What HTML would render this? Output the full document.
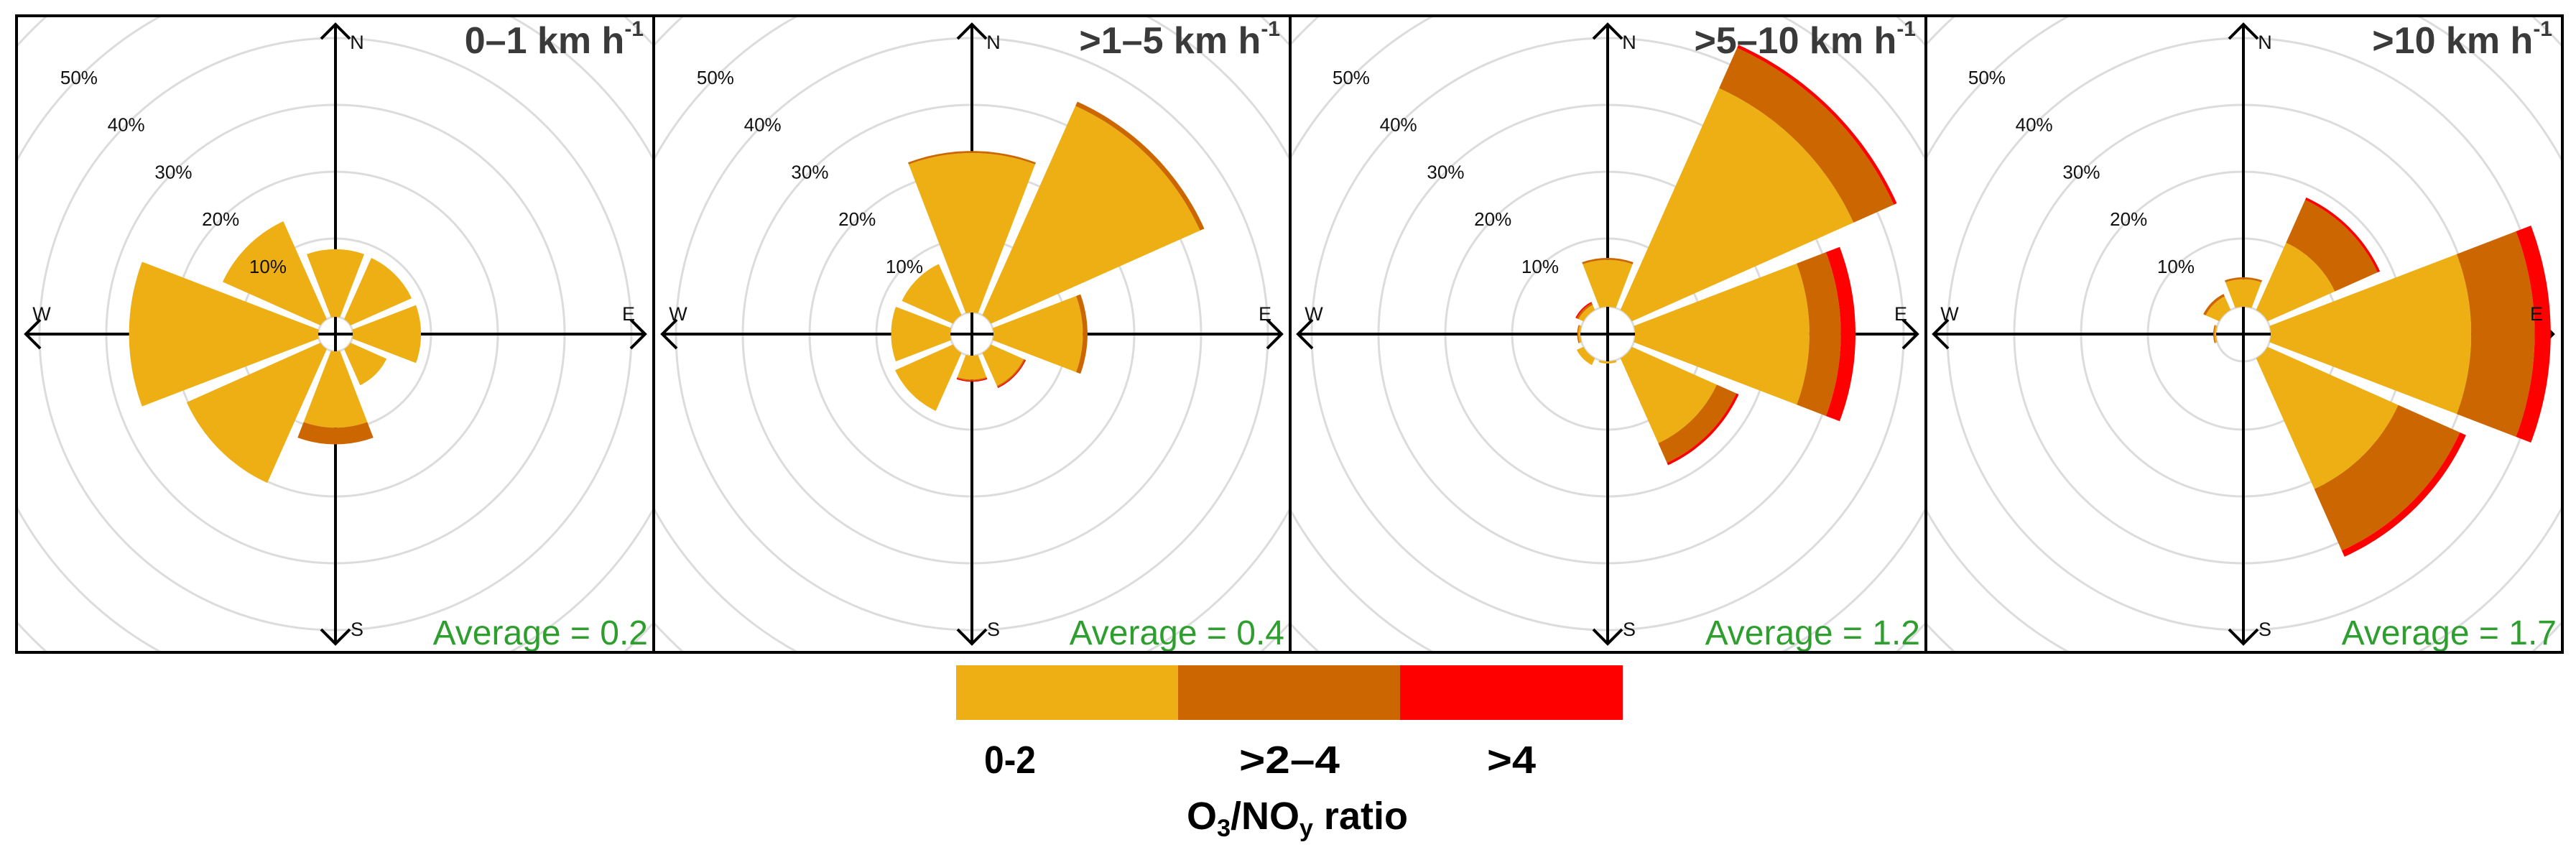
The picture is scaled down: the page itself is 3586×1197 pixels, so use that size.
<!DOCTYPE html>
<html><head><meta charset="utf-8"><style>
html,body{margin:0;padding:0;background:#fff;}
svg{display:block;font-family:"Liberation Sans",Arial,sans-serif;}
</style></head><body>
<svg id="chart" width="3586" height="1197" viewBox="0 0 3586 1197" xmlns="http://www.w3.org/2000/svg">
<g id="panels"></g>
<g id="legend">
  <rect x="1331" y="926" width="310" height="76" fill="#EDAF13"/>
  <rect x="1640" y="926" width="310" height="76" fill="#CC6600"/>
  <rect x="1949" y="926" width="310" height="76" fill="#FF0000"/>
  <text x="1406" y="1076" font-size="54" font-weight="bold" text-anchor="middle" textLength="72" lengthAdjust="spacingAndGlyphs">0-2</text>
  <text x="1795" y="1076" font-size="54" font-weight="bold" text-anchor="middle" textLength="140" lengthAdjust="spacingAndGlyphs">&gt;2–4</text>
  <text x="2104" y="1076" font-size="54" font-weight="bold" text-anchor="middle" textLength="68" lengthAdjust="spacingAndGlyphs">&gt;4</text>
  <text x="1806" y="1154" font-size="54" font-weight="bold" text-anchor="middle">O<tspan font-size="34" dy="10">3</tspan><tspan dy="-10">/NO</tspan><tspan font-size="34" dy="10">y</tspan><tspan dy="-10"> ratio</tspan></text>
</g>
</svg>
<script>
// order of directions: N, NE, E, SE, S, SW, W, NW
const directions = ["N","NE","E","SE","S","SW","W","NW"];
const panelTitles = ["0–1 km h",">1–5 km h",">5–10 km h",">10 km h"];
const panelAverages = ["Average = 0.2","Average = 0.4","Average = 1.2","Average = 1.7"];
const ringTicks = [10,20,30,40,50];
const ratioBins = ["0-2",">2-4",">4"];
const low1 = [8.4,8.3,8.5,4.2,9.7,20.2,26.6,14.3];
const mid1 = [0,0,0,0,2.5,0,0,0];
const high1 = [0,0,0,0,0,0,0,0];
const low2 = [22.8,33.2,12.3,4.3,2.5,8.4,7.8,7.3];
const mid2 = [0.3,0.7,0.7,0.2,0.1,0,0,0];
const high2 = [0,0,0,0.1,0.1,0,0,0];
const low3 = [6.8,36.1,25.9,13.7,0.1,0.9,0.1,0.6];
const mid3 = [0.3,6.6,4.7,3.2,0,0,0.15,0.3];
const high3 = [0,0.5,2.2,0.4,0,0,0,0.2];
const low4 = [3.9,10.8,29.8,21.2,0,0,0.05,2.0];
const mid4 = [0.3,7.0,9.5,10.1,0,0,0.1,0.4];
const high4 = [0,0.4,2.4,1.0,0,0,0,0];
const series = [[low1,mid1,high1],[low2,mid2,high2],[low3,mid3,high3],[low4,mid4,high4]];

const NS="http://www.w3.org/2000/svg";
const colors=["#EDAF13","#CC6600","#FF0000"];
const panelLeft=[23,910,1796,2681], panelW=[887,886,885,886];
const centersX=[467,1353,2238,3123], CY=465, PTOP=22, PBOT=908;
const holeR=[24,30,38,38];
function rr(p){return 40+9.3*p;}
function mk(tag,attrs,parent){const e=document.createElementNS(NS,tag);for(const k in attrs)e.setAttribute(k,attrs[k]);parent.appendChild(e);return e;}
const root=document.getElementById('panels');
const defs=mk('defs',{},root);

function sectorPath(cx,cy,angDeg,r1,r2){
  const half=21, off=2.5;
  function arc(r,rev){
    const d=Math.asin(Math.min(1,off/r))*180/Math.PI;
    const a1=angDeg-half+d, a2=angDeg+half-d, n=30, arr=[];
    for(let i=0;i<=n;i++){const a=(a1+(a2-a1)*i/n)*Math.PI/180;arr.push([cx+r*Math.sin(a),cy-r*Math.cos(a)]);}
    return rev?arr.reverse():arr;
  }
  const a=arc(r2,false).concat(arc(r1,true));
  return 'M'+a.map(p=>p[0].toFixed(1)+','+p[1].toFixed(1)).join('L')+'Z';
}

for(let pi=0;pi<4;pi++){
  const cx=centersX[pi], L=panelLeft[pi], W=panelW[pi], cy=CY, R0=holeR[pi];
  const g=mk('g',{},root);
  
  
  const cp=mk('clipPath',{id:'clip'+pi},defs);
  mk('rect',{x:L,y:PTOP,width:W,height:PBOT-PTOP},cp);
  const rings=mk('g',{'clip-path':'url(#clip'+pi+')'},g);
  
  
  for(let t=10;t<=70;t+=10){
    const c=mk('circle',{cx:cx,cy:cy,r:rr(t),fill:'none',stroke:'#dcdcdc','stroke-width':3},rings);
    
    
  }
  mk('circle',{cx:cx,cy:cy,r:R0,fill:'none',stroke:'#dcdcdc','stroke-width':3},rings);
  const ax=mk('g',{stroke:'#000','stroke-width':4,fill:'none'},g);
  
  
  const A=431,h=20;
  mk('line',{x1:cx,y1:cy-A,x2:cx,y2:cy+A},ax);
  mk('line',{x1:cx-A,y1:cy,x2:cx+A,y2:cy},ax);
  mk('polyline',{points:`${cx-h},${cy-A+h} ${cx},${cy-A} ${cx+h},${cy-A+h}`},ax);
  mk('polyline',{points:`${cx-h},${cy+A-h} ${cx},${cy+A} ${cx+h},${cy+A-h}`},ax);
  mk('polyline',{points:`${cx-A+h},${cy-h} ${cx-A},${cy} ${cx-A+h},${cy+h}`},ax);
  mk('polyline',{points:`${cx+A-h},${cy-h} ${cx+A},${cy} ${cx+A-h},${cy+h}`},ax);
  const bars=mk('g',{},g);
  
  
  const s=series[pi];
  for(let d=0;d<directions.length;d++){
    let cum=0, rin=R0;
    for(let b=0;b<3;b++){
      const v=s[b][d]; if(v<=0) continue;
      cum+=v; const rout=Math.max(rr(cum),rin+1.5);
      const p=mk('path',{d:sectorPath(cx,cy,d*45,rin,rout),fill:colors[b]},bars);
      
      
      rin=rout;
    }
  }
  for(const t of ringTicks){
    const r=rr(t), x=cx-r*Math.SQRT1_2, y=cy-r*Math.SQRT1_2;
    const tx=mk('text',{x:x,y:y+9,'font-size':26,'text-anchor':'middle',fill:'#111'},g);
    tx.textContent=t+'%';
    
    
  }
  const lbls=[['N',cx+30,59],['E',cx+408,437],['S',cx+30,876],['W',cx-409,437]];
  for(const [t,x,y] of lbls){
    const tx=mk('text',{x:x,y:y+9,'font-size':27,'text-anchor':'middle',fill:'#111'},g);
    tx.textContent=t;
    
    
  }
  const title=mk('text',{x:L+W-14,y:74,'font-size':52,'font-weight':'bold','text-anchor':'end',fill:'#3a3a3a'},g);
  
  
  title.appendChild(document.createTextNode(panelTitles[pi]));
  const sup=mk('tspan',{'font-size':30,dy:-24},title);
  sup.textContent='-1';
  const av=mk('text',{x:L+W-8,y:897,'font-size':48,'text-anchor':'end',fill:'#2e9e2e'},g);
  av.textContent=panelAverages[pi];
  
  
  const fr=mk('rect',{x:L,y:PTOP,width:W,height:PBOT-PTOP,fill:'none',stroke:'#000','stroke-width':4},g);
  
  
}
</script>
</body></html>
